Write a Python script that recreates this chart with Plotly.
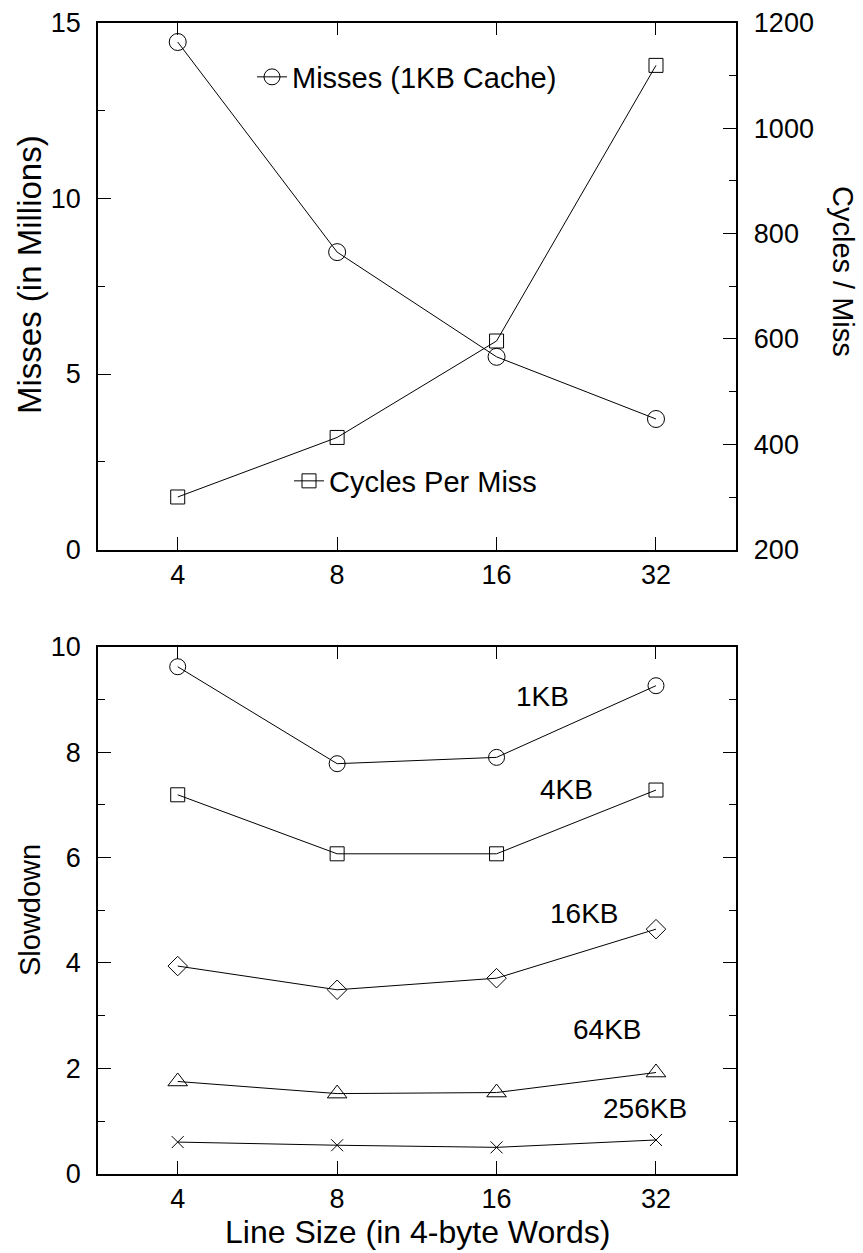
import plotly.graph_objects as go
import math

W, H = 863, 1253

line_sizes = [4, 8, 16, 32]
tick_labels = ["4", "8", "16", "32"]

misses_1kb = [14.45, 8.47, 5.49, 3.72]
cycles_per_miss = [300, 413, 596, 1119]

slow_1kb = [9.62, 7.78, 7.90, 9.26]
slow_4kb = [7.19, 6.07, 6.07, 7.28]
slow_16kb = [3.94, 3.49, 3.71, 4.64]
slow_64kb = [1.75, 1.52, 1.54, 1.92]
slow_256kb = [0.60, 0.54, 0.50, 0.64]

series_labels = ["1KB", "4KB", "16KB", "64KB", "256KB"]

FONT = "Liberation Sans, Arial, Helvetica, sans-serif"
BLACK = "black"

def px_x(p):
    return p / W

def px_y(p):
    return 1 - p / H

xdom = [px_x(98), px_x(735.7)]
top_dom = [px_y(549.7), px_y(22.7)]
bot_dom = [px_y(1173.7), px_y(646.7)]

fig = go.Figure()

line_style = dict(color=BLACK, width=1)

fig.add_trace(go.Scatter(
    x=line_sizes, y=misses_1kb, mode="lines+markers", name="Misses (1KB Cache)",
    line=line_style, marker=dict(symbol="circle-open", size=17, color=BLACK, line=dict(width=1)),
    xaxis="x", yaxis="y", legend="legend"))
fig.add_trace(go.Scatter(
    x=line_sizes, y=cycles_per_miss, mode="lines+markers", name="Cycles Per Miss",
    line=line_style, marker=dict(symbol="square-open", size=14, color=BLACK, line=dict(width=1)),
    xaxis="x", yaxis="y2", legend="legend2"))

bottom_series = [slow_1kb, slow_4kb, slow_16kb, slow_64kb, slow_256kb]
symbols = ["circle-open", "square-open", "diamond-open", "triangle-up-open", "x-thin-open"]
sizes = [16, 14, 15, 17, 12]
for vals, sym, sz, nm in zip(bottom_series, symbols, sizes, series_labels):
    fig.add_trace(go.Scatter(
        x=line_sizes, y=vals, mode="lines+markers", name=nm, showlegend=False,
        line=line_style, marker=dict(symbol=sym, size=sz, color=BLACK, line=dict(width=1, color=BLACK)),
        xaxis="x2", yaxis="y3"))

xrange_log = [math.log10(2 ** 1.5), math.log10(2 ** 5.5)]
tickfont = dict(family=FONT, size=27, color=BLACK)

xcommon = dict(type="log", range=xrange_log, tickvals=line_sizes, ticktext=tick_labels,
               ticks="inside", ticklen=13, tickwidth=1, tickcolor=BLACK,
               showline=True, linecolor=BLACK, linewidth=1.5, mirror="ticks",
               showgrid=False, zeroline=False, tickfont=tickfont, domain=xdom,
               automargin=False)

ycommon = dict(ticks="inside", ticklen=13, tickwidth=1, tickcolor=BLACK,
               showline=True, linecolor=BLACK, linewidth=1.5,
               showgrid=False, zeroline=False, tickfont=tickfont, automargin=False)

fig.update_layout(
    width=W, height=H,
    margin=dict(l=0, r=0, t=0, b=0),
    paper_bgcolor="white", plot_bgcolor="white",
    font=dict(family=FONT, color=BLACK),
    xaxis=dict(**xcommon, anchor="y"),
    yaxis=dict(**ycommon, domain=top_dom, range=[0, 15], tickvals=[0, 5, 10, 15],
               ticklabelstandoff=10,
               minor=dict(dtick=2.5, ticks="inside", ticklen=7, tickcolor=BLACK, tickwidth=1),
               anchor="x"),
    yaxis2=dict(**ycommon, domain=top_dom, range=[200, 1200], dtick=200, overlaying="y",
                side="right", anchor="x", ticklabelstandoff=11,
                minor=dict(dtick=100, ticks="inside", ticklen=7, tickcolor=BLACK, tickwidth=1)),
    xaxis2=dict(**xcommon, anchor="y3"),
    yaxis3=dict(**ycommon, domain=bot_dom, range=[0, 10], dtick=2, mirror="ticks",
                anchor="x2", ticklabelstandoff=10,
                minor=dict(dtick=1, ticks="inside", ticklen=7, tickcolor=BLACK, tickwidth=1)),
    legend=dict(x=px_x(252), y=px_y(77), xanchor="left", yanchor="middle",
                bgcolor="rgba(0,0,0,0)", borderwidth=0,
                font=dict(family=FONT, size=29, color=BLACK), itemwidth=30),
    legend2=dict(x=px_x(289), y=px_y(481), xanchor="left", yanchor="middle",
                 bgcolor="rgba(0,0,0,0)", borderwidth=0,
                 font=dict(family=FONT, size=29, color=BLACK), itemwidth=30),
)

annotations = [
    dict(text="Misses (in Millions)", x=px_x(30), y=px_y(275), textangle=-90, size=33),
    dict(text="Cycles / Miss", x=px_x(843), y=px_y(271), textangle=90, size=29),
    dict(text="Slowdown", x=px_x(30), y=px_y(910), textangle=-90, size=29),
    dict(text="Line Size (in 4-byte Words)", x=px_x(417), y=px_y(1232), textangle=0, size=32),
]
for a in annotations:
    sz = a.pop("size")
    fig.add_annotation(xref="paper", yref="paper", showarrow=False,
                       xanchor="center", yanchor="middle",
                       font=dict(family=FONT, size=sz, color=BLACK), **a)

label_pos = [(542, 697), (566, 789), (584, 913), (607, 1029), (645, 1108)]
for lbl, (lx, ly) in zip(series_labels, label_pos):
    fig.add_annotation(text=lbl, xref="paper", yref="paper", x=px_x(lx), y=px_y(ly),
                       showarrow=False, xanchor="center", yanchor="middle",
                       font=dict(family=FONT, size=28, color=BLACK))

fig.write_html("out.html")
